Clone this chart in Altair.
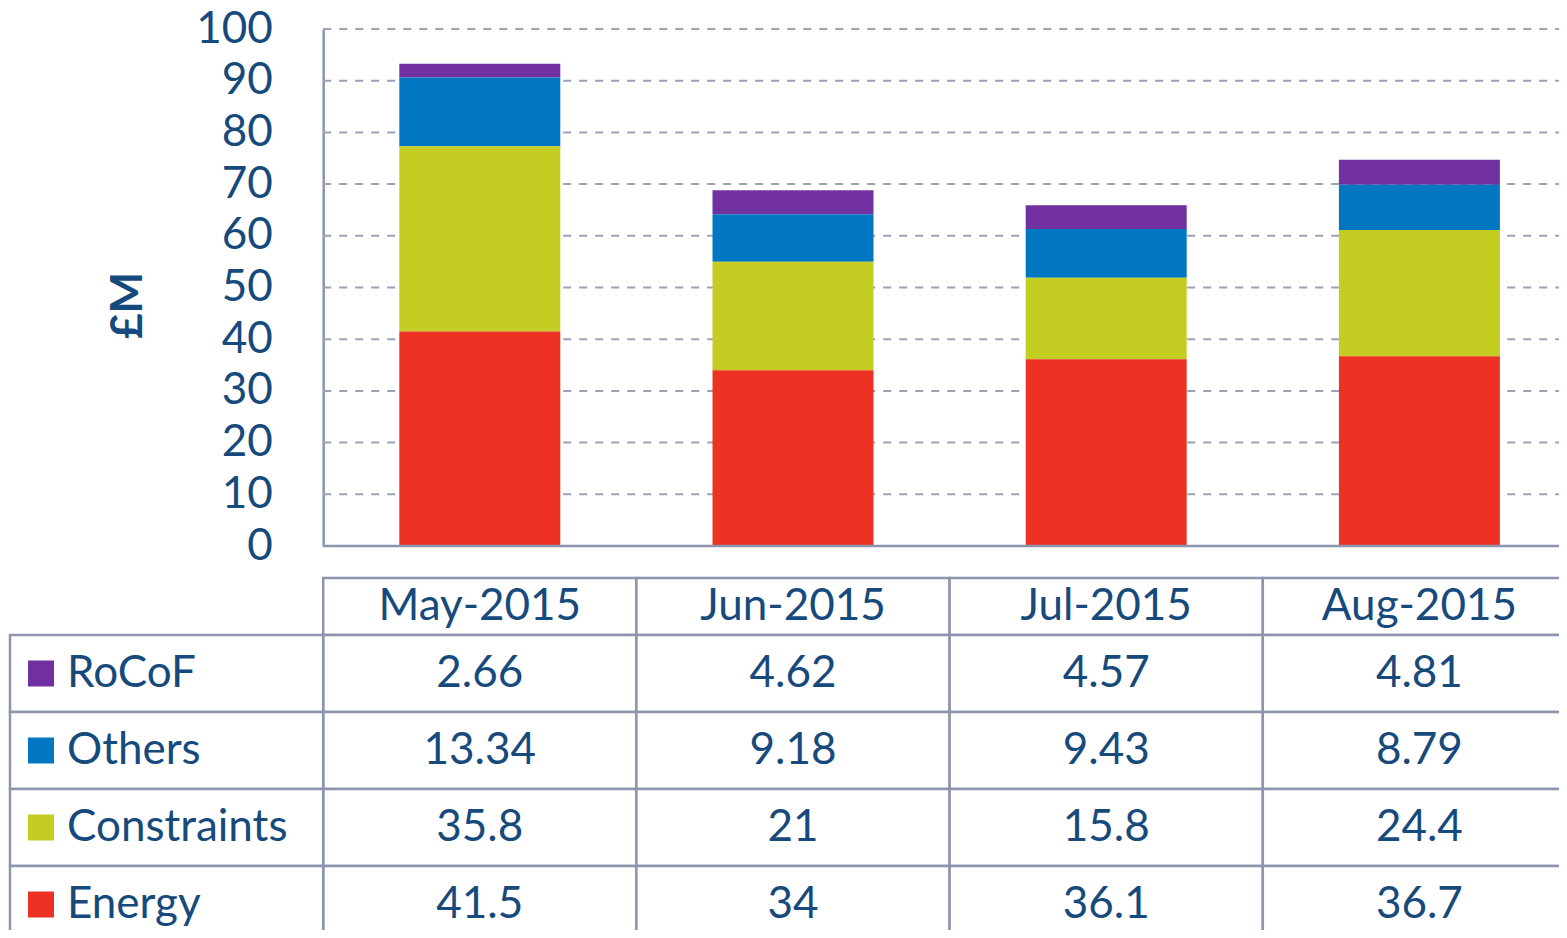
import altair as alt
import pandas as pd

# ---- data ----
months = ["May-2015", "Jun-2015", "Jul-2015", "Aug-2015"]
series = ["RoCoF", "Others", "Constraints", "Energy"]
rocof = [2.66, 4.62, 4.57, 4.81]
others = [13.34, 9.18, 9.43, 8.79]
constraints = [35.8, 21, 15.8, 24.4]
energy = [41.5, 34, 36.1, 36.7]
colors = ["#7030a0", "#0077c0", "#c3cd22", "#ed3224"]
y_ticks = [0, 10, 20, 30, 40, 50, 60, 70, 80, 90, 100]
y_title = "£M"
LAB = "_lab"              # the table's label column
cols = [LAB] + months

rows = []
for s, vals in zip(series, [rocof, others, constraints, energy]):
    for m, v in zip(months, vals):
        rows.append({"col": m, "series": s, "value": v,
                     "label": f"{v:g}", "stack": 3 - series.index(s)})
df = pd.DataFrame(rows)
df_lab = pd.DataFrame({"col": LAB, "series": series})
df_cells = pd.concat([df[["col", "series"]], df_lab], ignore_index=True)
df_head = pd.DataFrame({"col": months, "row": "header"})
df_grid = pd.DataFrame({"col": months[0], "value": y_ticks[1:]})
df_base = pd.DataFrame({"col": [months[0]], "value": [y_ticks[0]]})

# ---- style / layout ----
TEXT = "#174a7c"
LINE = "#8c95ad"
GRID = "#9aa2b8"
FONT = "Lato"
FS = 44
W = 1549                 # visible plot width (the table runs on past the edge)
H = 901                  # visible plot height (last row is cut like the original)
X_RANGE = 1566           # five equal columns: label column + four months
BAND = X_RANGE / 5
BAR_H = 517
HEAD = (549, 606)
ROWS = (606, 606 + 4 * 77)

xs = alt.Scale(domain=cols, range=[0, X_RANGE], paddingInner=0, paddingOuter=0)
ys_bar = alt.Scale(domain=[0, 100], range=[BAR_H, 0], nice=False)
color = alt.Color("series:N", scale=alt.Scale(domain=series, range=colors), legend=None)

bar_axis = alt.Axis(values=y_ticks, title=y_title, grid=False,
                    offset=-BAND, ticks=False, labelPadding=51,
                    labelFontSize=FS, labelColor=TEXT, labelFont=FONT,
                    domainColor=LINE, domainWidth=2.5,
                    titleFont=FONT, titleFontSize=FS, titleFontWeight="bold",
                    titleColor=TEXT, titleX=-173, titleY=276)

# ---- bar part ----
grid = alt.Chart(df_grid).mark_rule(color=GRID, strokeWidth=2, strokeDash=[8, 8]).encode(
    x=alt.X("col:N", scale=xs, axis=None, bandPosition=0),
    x2=alt.value("width"),
    y=alt.Y("value:Q", scale=ys_bar, axis=bar_axis, title=y_title),
)
base_line = alt.Chart(df_base).mark_rule(color=LINE, strokeWidth=2.5).encode(
    x=alt.X("col:N", scale=xs, axis=None, bandPosition=0),
    x2=alt.value("width"),
    y=alt.Y("value:Q", scale=ys_bar, axis=bar_axis, title=y_title),
)
bars = alt.Chart(df).mark_bar(width=alt.RelativeBandSize(0.514)).encode(
    x=alt.X("col:N", scale=xs, axis=None),
    y=alt.Y("value:Q", stack="zero", scale=ys_bar, axis=bar_axis, title=y_title),
    color=color,
    order=alt.Order("stack:Q", sort="ascending"),
)
bar_part = alt.layer(grid, bars, base_line)

# ---- header row ----
head_base = alt.Chart(df_head).encode(
    x=alt.X("col:N", scale=xs, axis=None),
    y=alt.Y("row:N", scale=alt.Scale(domain=["header"], range=list(HEAD),
                                     paddingInner=0, paddingOuter=0), axis=None),
)
header = alt.layer(
    head_base.mark_rect(fill="white", stroke=LINE, strokeWidth=2.5),
    head_base.mark_text(font=FONT, fontSize=FS, color=TEXT).encode(text="col:N"),
)

# ---- table rows ----
ys_row = alt.Scale(domain=series, range=list(ROWS), paddingInner=0, paddingOuter=0)
cells = alt.Chart(df_cells).mark_rect(fill="white", stroke=LINE, strokeWidth=2.5).encode(
    x=alt.X("col:N", scale=xs, axis=None),
    y=alt.Y("series:N", scale=ys_row, axis=None),
)
vals = alt.Chart(df).mark_text(font=FONT, fontSize=FS, color=TEXT).encode(
    x=alt.X("col:N", scale=xs, axis=None),
    y=alt.Y("series:N", scale=ys_row, axis=None),
    text="label:N",
)
swatch = alt.Chart(df_lab).mark_square(size=676, opacity=1).encode(
    x=alt.X("col:N", scale=xs, axis=None, bandPosition=0.099),
    y=alt.Y("series:N", scale=ys_row, axis=None),
    color=color,
)
names = alt.Chart(df_lab).mark_text(font=FONT, fontSize=FS, color=TEXT, align="left").encode(
    x=alt.X("col:N", scale=xs, axis=None, bandPosition=0.182),
    y=alt.Y("series:N", scale=ys_row, axis=None),
    text="series:N",
)
table = alt.layer(cells, vals, swatch, names)

chart = alt.layer(bar_part, header, table).resolve_scale(
    y="independent"
).properties(
    width=W, height=H,
    autosize=alt.AutoSizeParams(type="none"),
    padding={"left": 2, "top": 21, "right": 0, "bottom": 0},
).configure_view(stroke=None)

chart.save("out.html", embed_options={"renderer": "svg", "actions": False})
